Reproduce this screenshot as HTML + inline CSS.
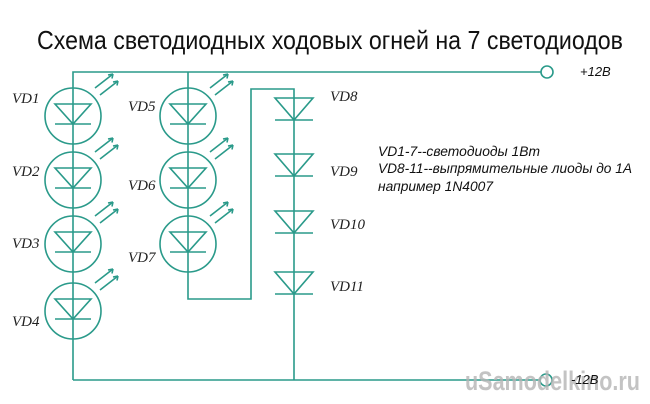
<!DOCTYPE html>
<html><head><meta charset="utf-8"><style>
html,body{margin:0;padding:0;background:#fff;width:650px;height:404px;overflow:hidden}
svg{display:block}
</style></head><body>
<svg width="650" height="404" viewBox="0 0 650 404" xmlns="http://www.w3.org/2000/svg">
<defs>
<g id="led" fill="none" stroke="#2a9a8a" stroke-width="1.6">
  <circle cx="0" cy="0" r="28" fill="#fff"/>
  <path d="M-18,-12 H18 L0,8 Z"/>
  <line x1="-18" y1="8" x2="18" y2="8"/>
  <line x1="0" y1="-28" x2="0" y2="28"/>
  <line x1="22" y1="-28" x2="40" y2="-42"/>
  <line x1="27" y1="-21" x2="45" y2="-35"/>
  <path d="M40,-42 l-5,1 M40,-42 l-1,4.5 M45,-35 l-5,1 M45,-35 l-1,4.5"/>
</g>
<g id="dio" fill="none" stroke="#2a9a8a" stroke-width="1.6">
  <path d="M-19,0 H19 L0,22 Z"/>
  <line x1="-19" y1="22" x2="19" y2="22"/>
</g>
</defs>
<text x="37" y="49" font-family="Liberation Sans, DejaVu Sans, sans-serif" font-size="26" textLength="586" lengthAdjust="spacingAndGlyphs" fill="#111">Схема светодиодных ходовых огней на 7 светодиодов</text>
<g fill="none" stroke="#2a9a8a" stroke-width="1.6">
  <polyline points="73,380 73,72 541,72"/>
  <line x1="188" y1="72" x2="188" y2="242"/>
  <polyline points="188,242 188,299 251,299 251,89 294,89 294,380"/>
  <line x1="73" y1="380" x2="540" y2="380"/>
  <circle cx="547" cy="72" r="6" fill="#fff"/>
  <circle cx="546" cy="380" r="6" fill="#fff"/>
</g>
<use href="#led" x="73" y="116"/>
<use href="#led" x="73" y="180"/>
<use href="#led" x="73" y="244"/>
<use href="#led" x="73" y="311"/>
<use href="#led" x="188" y="116"/>
<use href="#led" x="188" y="180"/>
<use href="#led" x="188" y="244"/>
<use href="#dio" x="294" y="98"/>
<use href="#dio" x="294" y="154"/>
<use href="#dio" x="294" y="211"/>
<use href="#dio" x="294" y="272"/>
<g font-family="Liberation Serif, serif" font-style="italic" font-size="15" fill="#222">
<text x="12" y="103">VD1</text>
<text x="12" y="176">VD2</text>
<text x="12" y="248">VD3</text>
<text x="12" y="326">VD4</text>
<text x="128" y="111">VD5</text>
<text x="128" y="190">VD6</text>
<text x="128" y="262">VD7</text>
<text x="330" y="101">VD8</text>
<text x="330" y="176">VD9</text>
<text x="330" y="229">VD10</text>
<text x="330" y="291">VD11</text>
</g>
<g font-family="Liberation Sans, DejaVu Sans, sans-serif" font-style="italic" font-size="14" fill="#111">
<text x="378" y="156" textLength="162" lengthAdjust="spacingAndGlyphs">VD1-7--светодиоды 1Вт</text>
<text x="378" y="173" textLength="254" lengthAdjust="spacingAndGlyphs">VD8-11--выпрямительные лиоды до 1А</text>
<text x="378" y="191" textLength="115" lengthAdjust="spacingAndGlyphs">например 1N4007</text>
<text x="580" y="76" font-size="13">+12В</text>
</g>
<text x="465" y="390" font-family="Liberation Sans, sans-serif" font-weight="bold" font-size="27" fill="#b4b4b4" fill-opacity="0.8" textLength="175" lengthAdjust="spacingAndGlyphs">uSamodelkino.ru</text>
<text x="571" y="384" font-family="Liberation Sans, sans-serif" font-style="italic" font-size="13" fill="#111">-12В</text>
</svg>
</body></html>
